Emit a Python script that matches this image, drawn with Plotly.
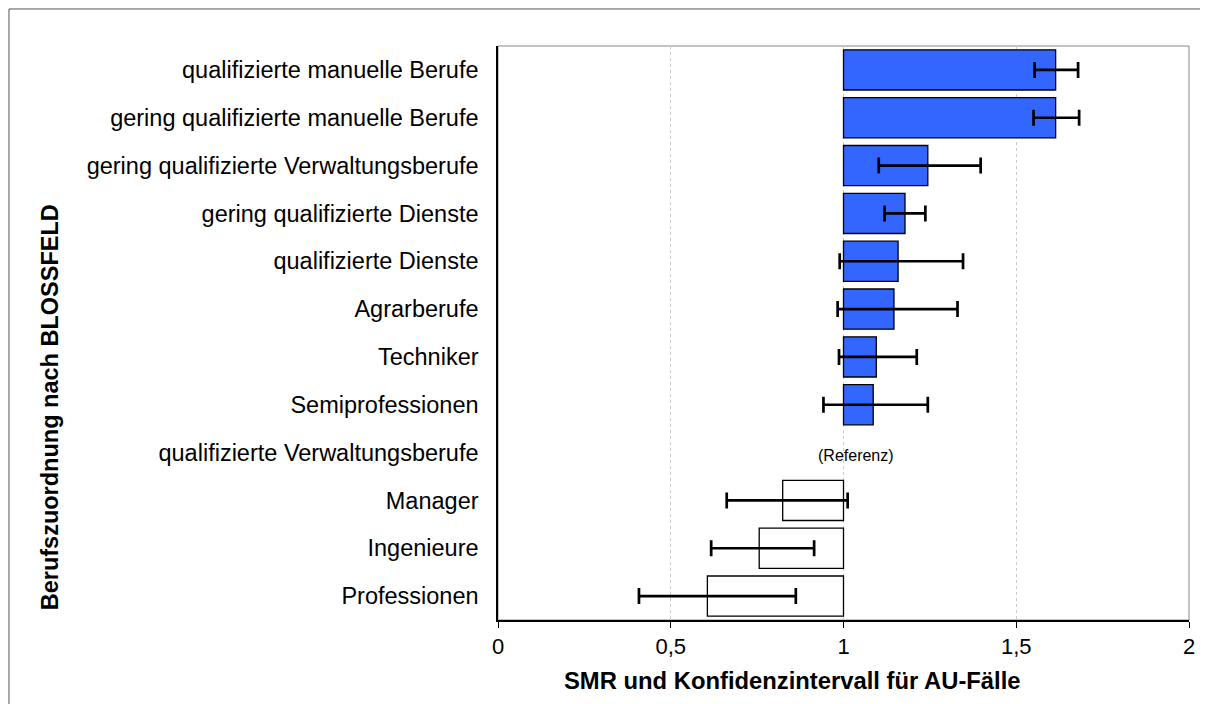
import plotly.graph_objects as go

categories = [
    "qualifizierte manuelle Berufe",
    "gering qualifizierte manuelle Berufe",
    "gering qualifizierte Verwaltungsberufe",
    "gering qualifizierte Dienste",
    "qualifizierte Dienste",
    "Agrarberufe",
    "Techniker",
    "Semiprofessionen",
    "qualifizierte Verwaltungsberufe",
    "Manager",
    "Ingenieure",
    "Professionen",
]
smr = [1.614, 1.614, 1.244, 1.178, 1.158, 1.146, 1.095, 1.086, None, 0.824, 0.756, 0.606]
ci_low = [1.553, 1.550, 1.102, 1.119, 0.989, 0.983, 0.987, 0.942, None, 0.662, 0.617, 0.408]
ci_high = [1.679, 1.682, 1.397, 1.237, 1.346, 1.330, 1.212, 1.244, None, 1.012, 0.915, 0.862]
reference_category = "qualifizierte Verwaltungsberufe"
reference_label = "(Referenz)"
x_ticks = [0, 0.5, 1, 1.5, 2]
x_ticklabels = ["0", "0,5", "1", "1,5", "2"]
x_title = "SMR und Konfidenzintervall für AU-Fälle"
y_title = "Berufszuordnung nach BLOSSFELD"

BASE = 1.0
lengths = [None if v is None else v - BASE for v in smr]
colors = ["#FFFFFF" if (v is None or v < BASE) else "#3366FF" for v in smr]
err_plus = [None if v is None else h - v for v, h in zip(smr, ci_high)]
err_minus = [None if v is None else v - l for v, l in zip(smr, ci_low)]

fig = go.Figure()
fig.add_trace(go.Bar(
    y=categories, x=lengths, base=BASE, orientation="h",
    marker=dict(color=colors, line=dict(color="#000000", width=1.3)),
    width=0.84, showlegend=False, hoverinfo="skip",
))
fig.add_trace(go.Scatter(
    y=categories, x=smr, mode="markers",
    marker=dict(size=1, color="rgba(0,0,0,0)"),
    error_x=dict(type="data", symmetric=False, array=err_plus, arrayminus=err_minus,
                 color="#000000", thickness=2.7, width=8),
    showlegend=False, hoverinfo="skip",
))

font_main = "Liberation Sans, Arial, sans-serif"

fig.add_annotation(x=1.037, y=reference_category, text=reference_label,
                   showarrow=False, font=dict(size=16, color="#000000"), yshift=-3)
fig.add_annotation(xref="paper", yref="paper", x=0.4255, y=-0.106,
                   xanchor="center", yanchor="middle", showarrow=False,
                   text="<b>" + x_title + "</b>", font=dict(size=23.8))
fig.add_annotation(xref="paper", yref="paper", x=-0.648, y=0.371,
                   xanchor="center", yanchor="middle", showarrow=False, textangle=-90,
                   text="<b>" + y_title + "</b>", font=dict(size=23.5))

fig.update_layout(
    width=1192, height=696,
    margin=dict(l=490, r=11, t=38, b=84, autoexpand=False),
    paper_bgcolor="#FFFFFF", plot_bgcolor="#FFFFFF",
    font=dict(family=font_main, size=22, color="#000000"),
    xaxis=dict(
        range=[0, 2], tickvals=x_ticks, ticktext=x_ticklabels,
        showgrid=True, gridcolor="#CCCCCC", griddash="dot", gridwidth=1,
        showline=True, linecolor="#000000", linewidth=1.5,
        ticks="outside", ticklen=6, tickcolor="#000000",
        zeroline=False, tickfont=dict(size=22), automargin=False,
    ),
    yaxis=dict(
        range=[len(categories) - 0.5, -0.5], showgrid=False,
        showline=True, linecolor="#000000", linewidth=1.5,
        ticks="", ticklabelstandoff=13, tickfont=dict(size=23.5), automargin=False,
    ),
    bargap=0.16,
    shapes=[
        dict(type="rect", xref="x domain", yref="y domain", x0=0, x1=1, y0=0, y1=1,
             line=dict(color="#888888", width=1), layer="below"),
        dict(type="rect", xref="paper", yref="paper", x0=-0.7077, x1=1.3, y0=-0.3, y1=1.0645,
             line=dict(color="#555555", width=1)),
    ],
)

fig.write_html("out.html")
